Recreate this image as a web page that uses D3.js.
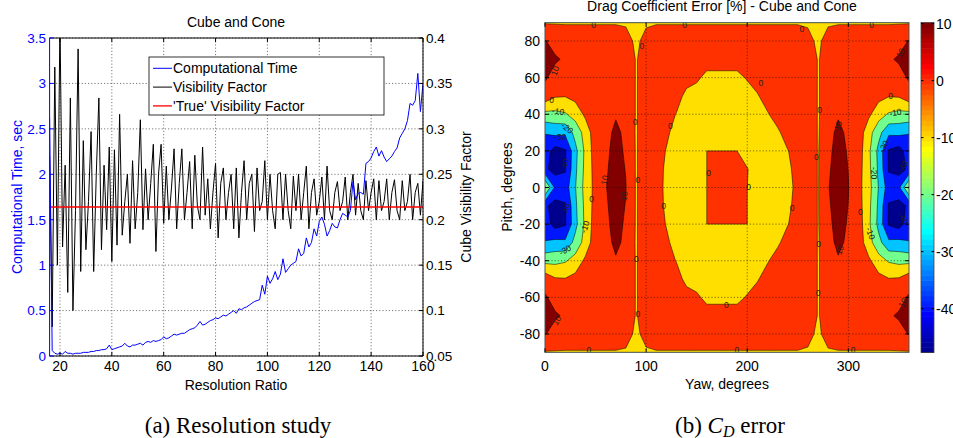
<!DOCTYPE html>
<html>
<head>
<meta charset="utf-8">
<script src="https://cdn.jsdelivr.net/npm/d3@7"></script>
<style>
  html, body { margin: 0; padding: 0; background: #fff; }
  svg { display: block; font-family: "Liberation Sans", Arial, Helvetica, sans-serif; }
</style>
</head>
<body>
<svg id="fig" width="953" height="438"></svg>
<script>
// ---------------- (a) resolution study ----------------
const resolutionRatio = d3.range(16, 161);           // 16 .. 160
const computeTime = [
  2.62, 0.06, 0.03, 0.02, 0.03, 0.02, 0.05, 0.03, 0.03, 0.02,
  0.03, 0.03, 0.03, 0.04, 0.04, 0.04, 0.05, 0.05, 0.06, 0.06,
  0.07, 0.07, 0.08, 0.12, 0.07, 0.08, 0.09, 0.10, 0.11, 0.14,
  0.11, 0.10, 0.12, 0.12, 0.13, 0.14, 0.12, 0.15, 0.16, 0.15,
  0.17, 0.16, 0.17, 0.18, 0.21, 0.19, 0.20, 0.22, 0.24, 0.23,
  0.24, 0.25, 0.25, 0.27, 0.29, 0.30, 0.31, 0.34, 0.38, 0.34,
  0.35, 0.37, 0.39, 0.40, 0.42, 0.41, 0.43, 0.45, 0.44, 0.46,
  0.48, 0.50, 0.47, 0.52, 0.51, 0.53, 0.54, 0.56, 0.58, 0.60,
  0.61, 0.62, 0.78, 0.68, 0.88, 0.80, 0.85, 0.93, 0.84, 0.90,
  1.07, 0.92, 0.96, 1.00, 1.02, 1.04, 1.18, 1.10, 1.13, 1.30,
  1.20, 1.25, 1.40, 1.32, 1.48, 1.53, 1.45, 1.32, 1.38, 1.46,
  1.42, 1.41, 1.50, 1.57, 1.55, 1.53, 1.60, 1.92, 1.72, 1.79,
  1.80, 1.78, 2.12, 2.14, 2.18, 2.25, 2.30, 2.20, 2.26, 2.19,
  2.14, 2.17, 2.20, 2.25, 2.29, 2.40, 2.45, 2.50, 2.59, 2.78,
  2.76, 2.81, 3.11, 2.69, 3.00
];
const visibilityFactor = [
  0.270, 0.082, 0.368, 0.150, 0.420, 0.170, 0.260, 0.120, 0.334, 0.100,
  0.210, 0.388, 0.143, 0.287, 0.167, 0.220, 0.297, 0.143, 0.250, 0.334,
  0.167, 0.260, 0.189, 0.280, 0.154, 0.277, 0.172, 0.316, 0.183, 0.220,
  0.250, 0.174, 0.265, 0.190, 0.230, 0.310, 0.189, 0.256, 0.200, 0.240,
  0.283, 0.165, 0.250, 0.283, 0.196, 0.259, 0.200, 0.235, 0.278, 0.190,
  0.240, 0.278, 0.200, 0.230, 0.264, 0.190, 0.271, 0.215, 0.200, 0.280,
  0.205, 0.245, 0.190, 0.230, 0.262, 0.180, 0.240, 0.257, 0.200, 0.230,
  0.250, 0.190, 0.257, 0.180, 0.230, 0.265, 0.200, 0.240, 0.250, 0.187,
  0.257, 0.210, 0.220, 0.265, 0.200, 0.250, 0.210, 0.190, 0.250, 0.252,
  0.200, 0.250, 0.210, 0.190, 0.248, 0.210, 0.250, 0.200, 0.230, 0.259,
  0.190, 0.230, 0.245, 0.205, 0.220, 0.247, 0.200, 0.259, 0.210, 0.200,
  0.230, 0.242, 0.210, 0.220, 0.247, 0.200, 0.230, 0.250, 0.205, 0.240,
  0.210, 0.200, 0.243, 0.210, 0.230, 0.245, 0.200, 0.243, 0.210, 0.220,
  0.245, 0.200, 0.230, 0.244, 0.210, 0.200, 0.243, 0.210, 0.220, 0.250,
  0.200, 0.230, 0.240, 0.205, 0.243
];
const trueVisibility = 0.214;
const ratioTicks = [20, 40, 60, 80, 100, 120, 140, 160];
const timeTicks = [0, 0.5, 1, 1.5, 2, 2.5, 3, 3.5];
const visTicks = [0.05, 0.1, 0.15, 0.2, 0.25, 0.3, 0.35, 0.4];
const legendNames = ["Computational Time", "Visibility Factor", "'True' Visibility Factor"];

// ---------------- (b) drag coefficient error map ----------------
const yawGrid = [0,10,20,30,40,50,60,70,80,90,100,110,120,130,140,150,160,170,180,
                 190,200,210,220,230,240,250,260,270,280,290,300,310,320,330,340,350,360];
const pitchGrid = [90,80,70,60,50,40,30,20,10,0,-10,-20,-30,-40,-50,-60,-70,-80,-90];
// drag coefficient error [%], one row per pitch (90 at top), one column per yaw
const cdError = [
  [-0.6,-0.6,-0.6,-0.6,-0.6,-0.6,-0.6,-0.6,-0.6,-0.6,-0.6,-0.6,-0.6,-0.6,-0.6,-0.6,-0.6,-0.6,-0.6,-0.6,-0.6,-0.6,-0.6,-0.6,-0.6,-0.6,-0.6,-0.6,-0.6,-0.6,-0.6,-0.6,-0.6,-0.6,-0.6,-0.6,-0.6],
  [10.46,7,5,5,5,5,5,5,2,-1,1.5,5,5,5,5,5,5,5,5,5,5,5,5,5,5,5,1.5,-1,2,5,5,5,5,5,5,7,10.46],
  [13,11,9,5,5,5,5,5,9,-0.7,4,5,5,5,5,5,5,5,5,5,5,5,5,5,5,5,9,-0.7,4,5,5,5,5,5,9,11,13],
  [11,7,5,5,5,5,5,5,9,-0.7,4,5,5,5,5,2,-3,-3,-3,-3,1,5,5,5,5,5,9,-0.7,4,5,5,5,5,5,5,7,11],
  [6.3,1,0.5,3,5,5,5,5,9,-0.7,4,5,5,5,-3.5,-5,-5,-5,-5,-5,-5,-1,5,5,5,5,9,-0.7,4,5,5,5,5,3,0.5,1,6.3],
  [-12.9,-12.75,-11,-6,2,5,5,8.7,9,-0.7,4,5,5,-0.5,-5,-5,-5,-5,-5,-5,-5,-5,-1,5,5,5,9,-0.7,4,8.7,5,5,2,-6,-11,-12.75,-12.9],
  [-29.5,-27.25,-28,-16.6,-6,6,5.5,13,7,-0.7,4,5,2,-4,-5,-5,-5,-5,-5,-5,-5,-5,-5,-2,5,5,9,-0.7,5.5,13,7.5,6,-6,-16.6,-28,-27.25,-29.5],
  [-35,-44,-41,-23,-7.5,5,8,13,8.7,-0.7,4,5,-0.5,-5,-5,-5,0,0,0,0,-5,-5,-5,-5,-0.5,5,9,-0.7,8,13,9.2,5,-7.5,-23,-41,-44,-35],
  [-38,-44,-41,-22,-7,4,9,13,9.67,-0.7,4,5,-2,-5,-5,-5,0,0,0,0,0.5,-5,-5,-5,-3,5,9,-0.7,9,13,9.9,4,-7,-22,-41,-44,-38],
  [-8,-32,-35,-20.5,-6,3,9.67,13,10.3,-0.7,4,5,-2.5,-5,-5,-5,0,0,0,0,0,-5,-5,-5,-5.6,5,9,-0.7,9.67,13,10.2,3,-6,-20.5,-35,-32,-8],
  [-38,-44,-41,-22,-7,4,9,13,9.67,-0.7,4,5,-2,-5,-5,-5,0,0,0,0,0,-5,-5,-5,-3,5,9,-0.7,9,13,9.9,4,-7,-22,-41,-44,-38],
  [-35,-44,-41,-23,-7.5,5,8,13,8.7,-0.7,4,5,-0.5,-5,-5,-5,0,0,0,0,0,-5,-5,-5,-0.5,5,9,-0.7,8,13,9.2,5,-7.5,-23,-41,-44,-35],
  [-29.5,-27.25,-28,-16.6,-6,6,5.5,13,7,-0.7,4,5,2,-4,-5,-5,-5,-5,-5,-5,-5,-5,-5,-2,5,5,9,-0.7,5.5,13,7.5,6,-6,-16.6,-28,-27.25,-29.5],
  [-12.9,-12.75,-11,-6,2,5,5,8.7,9,-0.7,4,5,5,-0.5,-5,-5,-5,-5,-5,-5,-5,-5,-1,5,5,5,9,-0.7,4,8.7,5,5,2,-6,-11,-12.75,-12.9],
  [6.3,1,0.5,3,5,5,5,5,9,-0.7,4,5,5,5,-3.5,-5,-5,-5,-5,-5,-5,-1,5,5,5,5,9,-0.7,4,5,5,5,5,3,0.5,1,6.3],
  [11,7,5,5,5,5,5,5,9,-0.7,4,5,5,5,5,2,-3,-3,-3,-3,1,5,5,5,5,5,9,-0.7,4,5,5,5,5,5,5,7,11],
  [13,11,9,5,5,5,5,5,9,-0.7,4,5,5,5,5,5,5,5,5,5,5,5,5,5,5,5,9,-0.7,4,5,5,5,5,5,9,11,13],
  [10.46,7,5,5,5,5,5,5,2,-1,1.5,5,5,5,5,5,5,5,5,5,5,5,5,5,5,5,1.5,-1,2,5,5,5,5,5,5,7,10.46],
  [-0.6,-0.6,-0.6,-0.6,-0.6,-0.6,-0.6,-0.6,-0.6,-0.6,-0.6,-0.6,-0.6,-0.6,-0.6,-0.6,-0.6,-0.6,-0.6,-0.6,-0.6,-0.6,-0.6,-0.6,-0.6,-0.6,-0.6,-0.6,-0.6,-0.6,-0.6,-0.6,-0.6,-0.6,-0.6,-0.6,-0.6]
];
const contourLevels = [-40, -30, -20, -10, 0, 10];
const colorLimits = [-47.7, 10.2];
const yawTicks = [0, 100, 200, 300];
const pitchTicks = [-80, -60, -40, -20, 0, 20, 40, 60, 80];
const colorbarTicks = [-40, -30, -20, -10, 0, 10];
// inline contour labels: yaw, pitch, text, rotation
const contourLabels = [
  [48, 88.5, "0", 0], [138, 89, "0", 0], [254, 86.7, "0", 0], [323, 89, "0", 0],
  [95.7, 77.5, "0", 0], [89, 36, "0", 0], [91.8, 4, "0", 0], [90.1, -38.8, "0", 0],
  [91.8, -69, "0", 0], [271.7, 42.5, "0", 0], [268.4, 16.9, "0", 0], [270.7, -30.6, "0", 0],
  [270, -57.6, "0", 0], [213.6, 57, "0", 0], [124, 33.7, "0", 0], [161.8, 8.1, "0", 0],
  [201.4, 0.4, "0", 0], [117.2, -10.1, "0", 0], [244.3, -11.4, "0", 0], [179.3, -64.4, "0", 0],
  [43.3, -89, "0", 0], [189.8, -88.7, "0", 0], [304.7, -89, "0", 0], [46.2, -6.5, "0", 0],
  [312, -13.2, "0", 0], [6.6, 48, "0", 0], [341.7, 49.8, "0", 0],
  [13, 41.6, "-10", 10], [346.6, 41, "-10", -10], [39.6, -21.5, "-10", -70], [321.9, -25, "-10", 70],
  [22, 32.4, "-20", 40], [325.8, 7.9, "-20", 90], [14.9, 27.8, "-30", 0], [335, 22.4, "-30", -60],
  [19.8, -34.2, "-30", -30], [19.8, 12.3, "-40", -80], [20.8, -12, "-40", -80],
  [353.9, 11.4, "-40", -60], [354.2, -16.9, "-40", 60],
  [9.9, 63.8, "10", -70], [351.6, 73.5, "10", -60], [11.6, -72.6, "10", -60], [353.9, -63, "10", -60],
  [58.8, 4.1, "10", -80], [78.2, -4.7, "10", -80], [289.8, 33.7, "10", -70], [291.5, -34.2, "10", -70]
];

const svg = d3.select("#fig");
const defs = svg.append("defs");

// =============== panel (a) ===============
const A = { left: 49.6, right: 423, top: 38, bottom: 356 };
const xA = d3.scaleLinear().domain([16, 160]).range([A.left, A.right]);
const yTime = d3.scaleLinear().domain([0, 3.5]).range([A.bottom, A.top]);
const yVis = d3.scaleLinear().domain([0.05, 0.4]).range([A.bottom, A.top]);
const gA = svg.append("g");
defs.append("clipPath").attr("id", "clipA").append("rect")
  .attr("x", A.left).attr("y", A.top).attr("width", A.right - A.left).attr("height", A.bottom - A.top);

gA.append("rect").attr("x", A.left).attr("y", A.top)
  .attr("width", A.right - A.left).attr("height", A.bottom - A.top).attr("fill", "#fff");

// dotted grid
const gridStyle = sel => sel.attr("stroke", "#000").attr("stroke-width", 0.7)
  .attr("stroke-dasharray", "1.2,2").attr("stroke-opacity", 0.75);
gA.append("g").selectAll("line").data(ratioTicks).join("line")
  .attr("x1", d => xA(d)).attr("x2", d => xA(d)).attr("y1", A.top).attr("y2", A.bottom).call(gridStyle);
gA.append("g").selectAll("line").data(timeTicks).join("line")
  .attr("y1", d => yTime(d)).attr("y2", d => yTime(d)).attr("x1", A.left).attr("x2", A.right).call(gridStyle);

const plotA = gA.append("g").attr("clip-path", "url(#clipA)");
const visLine = d3.line().x((d, i) => xA(resolutionRatio[i])).y(d => yVis(d));
const timeLine = d3.line().x((d, i) => xA(resolutionRatio[i])).y(d => yTime(d));
plotA.append("path").datum(visibilityFactor).attr("d", visLine)
  .attr("fill", "none").attr("stroke", "#000").attr("stroke-width", 1);
plotA.append("line").attr("x1", xA(16)).attr("x2", xA(160))
  .attr("y1", yVis(trueVisibility)).attr("y2", yVis(trueVisibility))
  .attr("stroke", "#ff0000").attr("stroke-width", 1.3);
plotA.append("path").datum(computeTime).attr("d", timeLine)
  .attr("fill", "none").attr("stroke", "#0000ff").attr("stroke-width", 1);

// axes box and ticks
const tickLen = 4;
gA.append("line").attr("x1", A.left).attr("x2", A.right).attr("y1", A.top).attr("y2", A.top).attr("stroke", "#000");
gA.append("line").attr("x1", A.left).attr("x2", A.right).attr("y1", A.bottom).attr("y2", A.bottom).attr("stroke", "#000");
gA.append("line").attr("x1", A.right).attr("x2", A.right).attr("y1", A.top).attr("y2", A.bottom).attr("stroke", "#000");
gA.append("line").attr("x1", A.left).attr("x2", A.left).attr("y1", A.top).attr("y2", A.bottom).attr("stroke", "#0000ff");
ratioTicks.forEach(t => {
  gA.append("line").attr("x1", xA(t)).attr("x2", xA(t)).attr("y1", A.bottom).attr("y2", A.bottom - tickLen).attr("stroke", "#000");
  gA.append("line").attr("x1", xA(t)).attr("x2", xA(t)).attr("y1", A.top).attr("y2", A.top + tickLen).attr("stroke", "#000");
  gA.append("text").attr("x", xA(t)).attr("y", 371).attr("text-anchor", "middle")
    .attr("font-size", 14).text(t);
});
timeTicks.forEach(t => {
  gA.append("line").attr("x1", A.left).attr("x2", A.left + tickLen).attr("y1", yTime(t)).attr("y2", yTime(t)).attr("stroke", "#0000ff");
  gA.append("text").attr("x", 46).attr("y", yTime(t)).attr("dy", "0.36em").attr("text-anchor", "end")
    .attr("font-size", 13.5).attr("fill", "#0000ff").text(d3.format("~g")(t));
});
visTicks.forEach(t => {
  gA.append("line").attr("x1", A.right).attr("x2", A.right - tickLen).attr("y1", yVis(t)).attr("y2", yVis(t)).attr("stroke", "#000");
  gA.append("text").attr("x", 426).attr("y", yVis(t)).attr("dy", "0.36em").attr("text-anchor", "start")
    .attr("font-size", 13.5).text(d3.format("~g")(t));
});

gA.append("text").attr("x", 236).attr("y", 26.5).attr("text-anchor", "middle").attr("font-size", 14).text("Cube and Cone");
gA.append("text").attr("x", 236).attr("y", 390).attr("text-anchor", "middle").attr("font-size", 14).text("Resolution Ratio");
gA.append("text").attr("transform", "translate(22,197) rotate(-90)").attr("text-anchor", "middle")
  .attr("font-size", 14).attr("fill", "#0000ff").text("Computational Time, sec");
gA.append("text").attr("transform", "translate(471,197) rotate(-90)").attr("text-anchor", "middle")
  .attr("font-size", 14).text("Cube Visibility Factor");

// legend
const lg = gA.append("g");
lg.append("rect").attr("x", 149).attr("y", 57).attr("width", 235).attr("height", 58)
  .attr("fill", "#fff").attr("stroke", "#000").attr("stroke-width", 0.8);
const legendColors = ["#0000ff", "#000", "#ff0000"];
legendNames.forEach((name, i) => {
  const y = 68.3 + i * 18.8;
  lg.append("line").attr("x1", 153).attr("x2", 172).attr("y1", y).attr("y2", y)
    .attr("stroke", legendColors[i]).attr("stroke-width", i === 2 ? 1.3 : 1);
  lg.append("text").attr("x", 173).attr("y", y + 5).attr("font-size", 14).text(name);
});

svg.append("text").attr("x", 238).attr("y", 433).attr("text-anchor", "middle")
  .attr("font-family", "'Liberation Serif', 'Times New Roman', serif").attr("font-size", 23)
  .text("(a) Resolution study");

// =============== panel (b) ===============
const B = { left: 545, right: 909, top: 22.7, bottom: 352.3 };
const xB = d3.scaleLinear().domain([0, 360]).range([B.left, B.right]);
const yB = d3.scaleLinear().domain([-90, 90]).range([B.bottom, B.top]);
// MATLAB-style jet colormap
const jet = d3.scaleLinear()
  .domain([0, 0.111, 0.365, 0.619, 0.873, 1])
  .range(["#00008f", "#0000ff", "#00ffff", "#ffff00", "#ff0000", "#800000"])
  .clamp(true);
const cnorm = d3.scaleLinear().domain(colorLimits).range([0, 1]).clamp(true);
const cmap = v => jet(cnorm(v));

defs.append("clipPath").attr("id", "clipB").append("rect")
  .attr("x", B.left).attr("y", B.top).attr("width", B.right - B.left).attr("height", B.bottom - B.top);
const gB = svg.append("g");
const plotB = gB.append("g").attr("clip-path", "url(#clipB)");

// d3.contours places sample i at coordinate i + 0.5
const nx = yawGrid.length, ny = pitchGrid.length;
const colToYaw = d3.scaleLinear().domain([0.5, nx - 0.5]).range([yawGrid[0], yawGrid[nx - 1]]);
const rowToPitch = d3.scaleLinear().domain([0.5, ny - 0.5]).range([pitchGrid[0], pitchGrid[ny - 1]]);
const gridProjection = d3.geoTransform({
  point(x, y) { this.stream.point(xB(colToYaw(x)), yB(rowToPitch(y))); }
});
const contourPath = d3.geoPath(gridProjection);
const bands = d3.contours().size([nx, ny]).thresholds(contourLevels)(cdError.flat());

plotB.append("rect").attr("x", B.left).attr("y", B.top)
  .attr("width", B.right - B.left).attr("height", B.bottom - B.top)
  .attr("fill", cmap(colorLimits[0]));
plotB.append("g").selectAll("path").data(bands).join("path")
  .attr("d", contourPath).attr("fill", d => cmap(d.value)).attr("stroke", "none");
plotB.append("g").selectAll("path").data(bands).join("path")
  .attr("d", contourPath).attr("fill", "none").attr("stroke", "#000")
  .attr("stroke-width", 0.6).attr("stroke-opacity", 0.85);

// contour labels
plotB.append("g").selectAll("text").data(contourLabels).join("text")
  .attr("transform", d => `translate(${xB(d[0])},${yB(d[1])}) rotate(${d[3]})`)
  .attr("text-anchor", "middle").attr("dy", "0.35em").attr("font-size", 8.5)
  .attr("fill", "#222").text(d => d[2]);

// dotted grid over the map
gB.append("g").selectAll("line").data(yawTicks.filter(t => t > 0)).join("line")
  .attr("x1", d => xB(d)).attr("x2", d => xB(d)).attr("y1", B.top).attr("y2", B.bottom).call(gridStyle);
gB.append("g").selectAll("line").data(pitchTicks).join("line")
  .attr("y1", d => yB(d)).attr("y2", d => yB(d)).attr("x1", B.left).attr("x2", B.right).call(gridStyle);

gB.append("rect").attr("x", B.left).attr("y", B.top)
  .attr("width", B.right - B.left).attr("height", B.bottom - B.top)
  .attr("fill", "none").attr("stroke", "#555").attr("stroke-width", 1);
yawTicks.forEach(t => {
  gB.append("line").attr("x1", xB(t)).attr("x2", xB(t)).attr("y1", B.bottom).attr("y2", B.bottom - tickLen).attr("stroke", "#000");
  gB.append("line").attr("x1", xB(t)).attr("x2", xB(t)).attr("y1", B.top).attr("y2", B.top + tickLen).attr("stroke", "#000");
  gB.append("text").attr("x", xB(t)).attr("y", 370.5).attr("text-anchor", "middle").attr("font-size", 14).text(t);
});
pitchTicks.forEach(t => {
  gB.append("line").attr("x1", B.left).attr("x2", B.left + tickLen).attr("y1", yB(t)).attr("y2", yB(t)).attr("stroke", "#000");
  gB.append("line").attr("x1", B.right).attr("x2", B.right - tickLen).attr("y1", yB(t)).attr("y2", yB(t)).attr("stroke", "#000");
  gB.append("text").attr("x", 540).attr("y", yB(t)).attr("dy", "0.36em").attr("text-anchor", "end")
    .attr("font-size", 14).text(t);
});
gB.append("text").attr("x", 722).attr("y", 10.5).attr("text-anchor", "middle").attr("font-size", 14)
  .text("Drag Coefficient Error [%] - Cube and Cone");
gB.append("text").attr("x", 727).attr("y", 389).attr("text-anchor", "middle").attr("font-size", 14)
  .text("Yaw, degrees");
gB.append("text").attr("transform", "translate(512,187) rotate(-90)").attr("text-anchor", "middle")
  .attr("font-size", 14).text("Pitch, degrees");

// colorbar
const CB = { left: 921, right: 934, top: 22.5, bottom: 352.5 };
const yCB = d3.scaleLinear().domain(colorLimits).range([CB.bottom, CB.top]);
const nColors = 64;
const cbSteps = d3.range(nColors).map(i => colorLimits[0] + (colorLimits[1] - colorLimits[0]) * i / nColors);
const cbStep = (colorLimits[1] - colorLimits[0]) / nColors;
gB.append("g").selectAll("rect").data(cbSteps).join("rect")
  .attr("x", CB.left).attr("width", CB.right - CB.left)
  .attr("y", d => yCB(d + cbStep)).attr("height", d => yCB(d) - yCB(d + cbStep) + 0.5)
  .attr("fill", (d, i) => jet(i / (nColors - 1)));
gB.append("rect").attr("x", CB.left).attr("y", CB.top)
  .attr("width", CB.right - CB.left).attr("height", CB.bottom - CB.top)
  .attr("fill", "none").attr("stroke", "#444").attr("stroke-width", 0.8);
colorbarTicks.forEach(t => {
  gB.append("line").attr("x1", CB.left).attr("x2", CB.left + 2.5).attr("y1", yCB(t)).attr("y2", yCB(t)).attr("stroke", "#000");
  gB.append("line").attr("x1", CB.right).attr("x2", CB.right - 2.5).attr("y1", yCB(t)).attr("y2", yCB(t)).attr("stroke", "#000");
  gB.append("text").attr("x", 936).attr("y", yCB(t)).attr("dy", "0.36em").attr("font-size", 14).text(t);
});

// caption (b) with C_D
const capB = svg.append("text").attr("x", 730).attr("y", 433).attr("text-anchor", "middle")
  .attr("font-family", "'Liberation Serif', 'Times New Roman', serif").attr("font-size", 23);
capB.append("tspan").text("(b) ");
capB.append("tspan").attr("font-style", "italic").text("C");
capB.append("tspan").attr("font-style", "italic").attr("font-size", 16).attr("dy", 4).text("D");
capB.append("tspan").attr("dy", -4).text(" error");
</script>
</body>
</html>
